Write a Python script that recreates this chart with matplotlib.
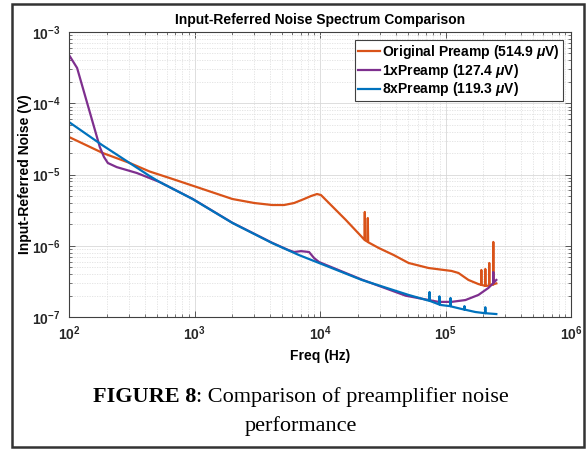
import math
import matplotlib
matplotlib.use("Agg")
import matplotlib.pyplot as plt
from matplotlib.ticker import FuncFormatter, LogLocator, NullFormatter
from matplotlib.patches import Rectangle

freq_orig = [100, 186, 305, 440, 669, 1096, 2004, 2993, 4159, 5176,
             6221, 7468, 8488, 9465, 10180, 11780, 16070, 21530, 22600, 22750,
             22900, 23900, 24030, 24200, 29380, 38640, 50800, 73300, 111600, 126800,
             152400, 182900, 192500, 193000, 193500, 207000, 207600, 208200, 222700, 223200,
             223700, 231600, 240000, 240400, 240800, 254100]
noise_orig = [3.36e-5, 2.0e-5, 1.45e-5, 1.10e-5, 8.65e-6, 6.47e-6, 4.53e-6, 3.98e-6, 3.73e-6, 3.73e-6,
              3.98e-6, 4.53e-6, 4.99e-6, 5.32e-6, 5.15e-6, 3.98e-6, 2.30e-6, 1.33e-6, 1.21e-6, 2.98e-6,
              1.19e-6, 1.14e-6, 2.45e-6, 1.12e-6, 9.3e-7, 7.41e-7, 5.73e-7, 4.87e-7, 4.43e-7, 4.15e-7,
              3.31e-7, 2.90e-7, 2.83e-7, 4.57e-7, 2.82e-7, 2.74e-7, 4.72e-7, 2.73e-7, 2.76e-7, 5.73e-7,
              2.77e-7, 2.82e-7, 2.86e-7, 1.13e-6, 2.88e-7, 2.96e-7]

freq_1x = [100, 116, 176, 190, 204, 240, 347, 527, 965, 2004,
           4159, 5600, 6221, 7063, 8180, 8960, 9820, 21530, 48160, 87980,
           111600, 144200, 182900, 219300, 239800, 240400, 241000, 254100]
noise_1x = [4.76e-4, 3.13e-4, 2.43e-5, 1.76e-5, 1.45e-5, 1.27e-5, 1.05e-5, 7.85e-6, 4.55e-6, 2.1e-6,
            1.1e-6, 8.7e-7, 8.17e-7, 8.4e-7, 8.17e-7, 6.73e-7, 5.91e-7, 3.35e-7, 1.99e-7, 1.63e-7,
            1.63e-7, 1.73e-7, 2.04e-7, 2.55e-7, 2.98e-7, 4.28e-7, 3.0e-7, 3.31e-7]

freq_8x = [100, 183, 440, 527, 965, 2004, 4159, 6800, 9820, 21530,
           50800, 74000, 74600, 75200, 89000, 89500, 90000, 92900, 109200, 109700,
           110200, 141000, 141600, 142200, 173000, 207000, 207600, 208200, 254100]
noise_8x = [5.45e-5, 2.6e-5, 9.5e-6, 7.85e-6, 4.53e-6, 2.09e-6, 1.09e-6, 7.4e-7, 5.73e-7, 3.31e-7,
            2.04e-7, 1.69e-7, 2.24e-7, 1.68e-7, 1.5e-7, 1.95e-7, 1.5e-7, 1.47e-7, 1.42e-7, 1.85e-7,
            1.41e-7, 1.27e-7, 1.42e-7, 1.27e-7, 1.175e-7, 1.13e-7, 1.37e-7, 1.13e-7, 1.10e-7]

labels = ["Original Preamp (514.9 $\\mu$V)", "1xPreamp (127.4 $\\mu$V)", "8xPreamp (119.3 $\\mu$V)"]
colors = ["#D95319", "#7E2F8E", "#0072BD"]

plt.rcParams["font.family"] = "Liberation Sans"
plt.rcParams["font.weight"] = "bold"
plt.rcParams["mathtext.fontset"] = "custom"
plt.rcParams["mathtext.rm"] = "Liberation Sans:bold"
plt.rcParams["mathtext.bf"] = "Liberation Sans:bold"
plt.rcParams["mathtext.it"] = "Liberation Sans:italic"

W, H = 587, 451
fig = plt.figure(figsize=(W / 100, H / 100), dpi=100)
ax = fig.add_axes([69 / W, (H - 317) / H, 502 / W, 285 / H])

ax.plot(freq_orig, noise_orig, color=colors[0], lw=1.6, label=labels[0])
ax.plot(freq_1x, noise_1x, color=colors[1], lw=1.6, label=labels[1])
ax.plot(freq_8x, noise_8x, color=colors[2], lw=1.6, label=labels[2])

ax.set_xscale("log")
ax.set_yscale("log")
ax.set_xlim(1e2, 1e6)
ax.set_ylim(1e-7, 1e-3)

fmt = FuncFormatter(lambda v, p: "$\\mathbf{10^{%d}}$" % round(math.log10(v)))
ax.xaxis.set_major_formatter(fmt)
ax.yaxis.set_major_formatter(fmt)
ax.xaxis.set_minor_locator(LogLocator(base=10, subs=range(2, 10), numticks=20))
ax.yaxis.set_minor_locator(LogLocator(base=10, subs=range(2, 10), numticks=20))
ax.xaxis.set_minor_formatter(NullFormatter())
ax.yaxis.set_minor_formatter(NullFormatter())

ax.tick_params(which="both", direction="in", top=True, right=True, colors="#404040", labelcolor="#262626")
ax.tick_params(which="major", length=4, width=0.6, labelsize=10)
ax.tick_params(which="minor", length=2, width=0.5)
ax.tick_params(axis="x", pad=5)
ax.tick_params(axis="y", pad=6)
for s in ax.spines.values():
    s.set_color("#404040")
    s.set_linewidth(0.8)

ax.grid(which="major", color="#d8d8d8", lw=0.6, ls="-")
ax.grid(which="minor", color="#e0e0e0", lw=0.6, ls=(0, (1.5, 1.5)))
ax.set_axisbelow(True)

ax.set_title("Input-Referred Noise Spectrum Comparison", fontsize=10, fontweight="bold", pad=6)
ax.set_xlabel("Freq (Hz)", fontsize=10, fontweight="bold")
ax.set_ylabel("Input-Referred Noise (V)", fontsize=10, fontweight="bold")
ax.xaxis.set_label_coords(0.5, -0.112)
ax.yaxis.set_label_coords(-0.074, 0.5)

leg = ax.legend(loc="upper right", fontsize=10, handlelength=1.6, handletextpad=0.15,
                borderpad=0.2, labelspacing=0.05, borderaxespad=0.6, fancybox=False,
                framealpha=1, edgecolor="#404040")
leg.get_frame().set_linewidth(0.8)

# caption with a bold figure number
fig.canvas.draw()
r = fig.canvas.get_renderer()
cap_y = 1 - 397 / H
cap_a = fig.text(0, cap_y, "FIGURE 8", fontsize=16, fontweight="bold",
                 family="Liberation Serif", va="center", ha="left")
cap_b = fig.text(0, cap_y, ": Comparison of preamplifier noise", fontsize=16,
                 fontweight="normal", family="Liberation Serif", va="center", ha="left")
wa = cap_a.get_window_extent(r).width
wb = cap_b.get_window_extent(r).width
x0 = (301 - (wa + wb) / 2) / W
cap_a.set_x(x0)
cap_b.set_x(x0 + wa / W)
fig.text(301 / W, 1 - 426 / H, "performance", fontsize=16, fontweight="normal",
         family="Liberation Serif", va="center", ha="center")

fig.patches.append(Rectangle((12 / W, 4 / H), 572 / W, 443 / H, transform=fig.transFigure,
                             fill=False, edgecolor="#333333", lw=1.8))

fig.savefig("out.png", dpi=100)
